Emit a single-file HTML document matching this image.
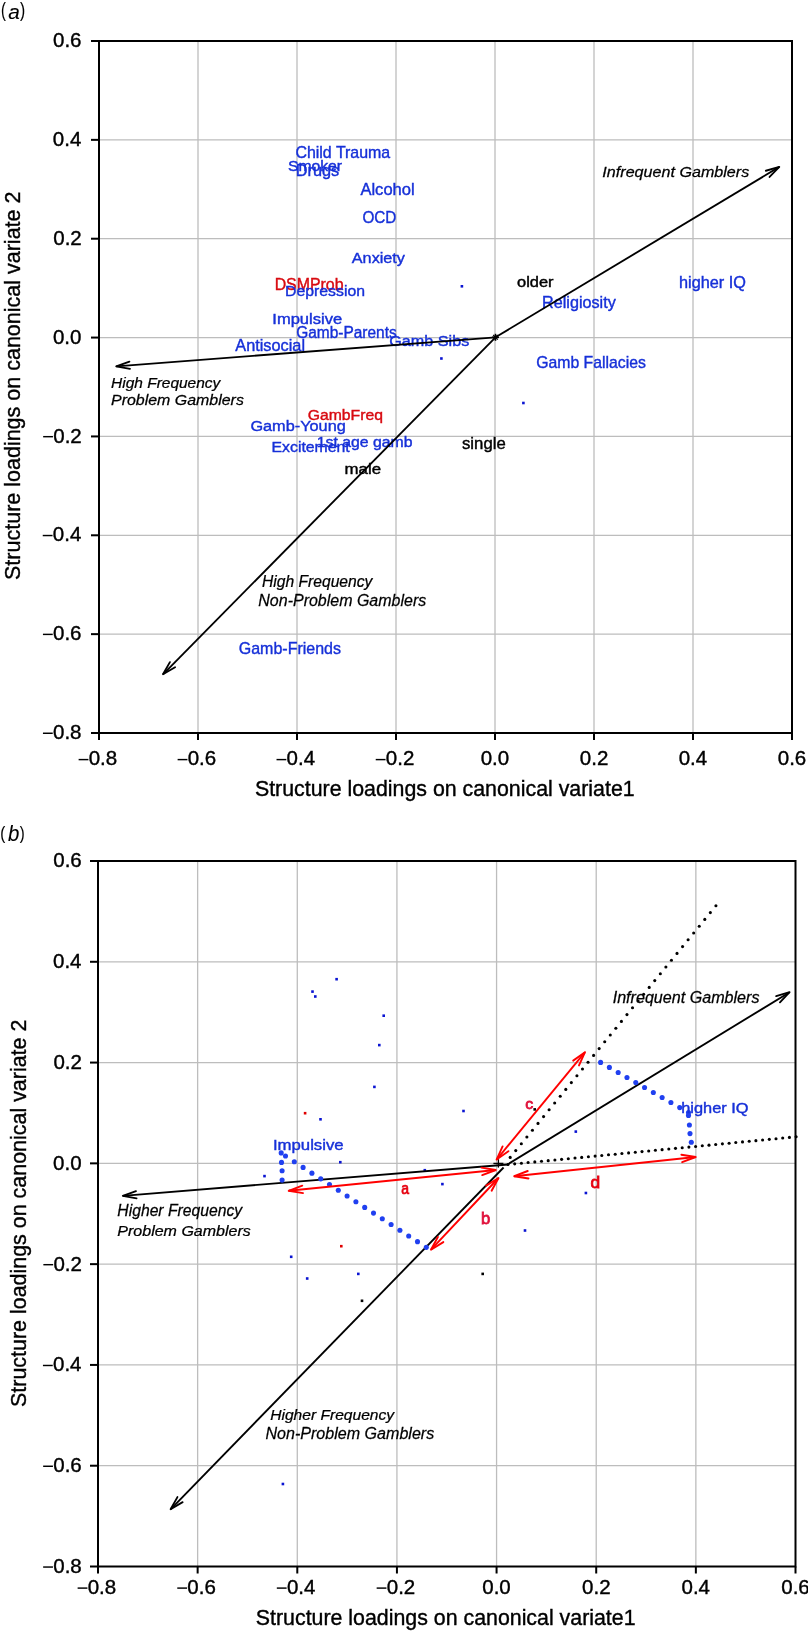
<!DOCTYPE html>
<html><head><meta charset="utf-8"><style>html,body{margin:0;padding:0;background:#fff;width:808px;height:1631px;overflow:hidden;position:relative}</style></head>
<body>
<svg width="808" height="1631" viewBox="0 0 808 1631" style="position:absolute;left:0;top:0;will-change:transform;font-family:'Liberation Sans',sans-serif">
<rect width="808" height="1631" fill="#fff"/>
<text transform="translate(1.12,17.24) scale(0.7602,1)" font-size="19.36" fill="#000" stroke="#000" stroke-width="0.1" style="">(</text>
<text transform="translate(8.28,18.90) scale(1.0211,1)" font-size="20.37" fill="#000" stroke="#000" stroke-width="0.1" style="font-style:italic;">a</text>
<text transform="translate(20.12,17.24) scale(0.7992,1)" font-size="19.36" fill="#000" stroke="#000" stroke-width="0.1" style="">)</text>
<line x1="198.00" y1="41.00" x2="198.00" y2="733.00" stroke="#bdbdbd" stroke-width="1.3"/>
<line x1="99.00" y1="139.86" x2="792.00" y2="139.86" stroke="#bdbdbd" stroke-width="1.3"/>
<line x1="297.00" y1="41.00" x2="297.00" y2="733.00" stroke="#bdbdbd" stroke-width="1.3"/>
<line x1="99.00" y1="238.71" x2="792.00" y2="238.71" stroke="#bdbdbd" stroke-width="1.3"/>
<line x1="396.00" y1="41.00" x2="396.00" y2="733.00" stroke="#bdbdbd" stroke-width="1.3"/>
<line x1="99.00" y1="337.57" x2="792.00" y2="337.57" stroke="#bdbdbd" stroke-width="1.3"/>
<line x1="495.00" y1="41.00" x2="495.00" y2="733.00" stroke="#bdbdbd" stroke-width="1.3"/>
<line x1="99.00" y1="436.43" x2="792.00" y2="436.43" stroke="#bdbdbd" stroke-width="1.3"/>
<line x1="594.00" y1="41.00" x2="594.00" y2="733.00" stroke="#bdbdbd" stroke-width="1.3"/>
<line x1="99.00" y1="535.29" x2="792.00" y2="535.29" stroke="#bdbdbd" stroke-width="1.3"/>
<line x1="693.00" y1="41.00" x2="693.00" y2="733.00" stroke="#bdbdbd" stroke-width="1.3"/>
<line x1="99.00" y1="634.14" x2="792.00" y2="634.14" stroke="#bdbdbd" stroke-width="1.3"/>
<rect x="99.00" y="41.00" width="693.00" height="692.00" fill="none" stroke="#000" stroke-width="2"/>
<line x1="91.00" y1="41.00" x2="99.00" y2="41.00" stroke="#000" stroke-width="2"/>
<text transform="translate(53.02,47.08) scale(1.0000,1)" font-size="20.50" fill="#000" stroke="#000" stroke-width="0.4" style="">0.6</text>
<line x1="99.00" y1="733.00" x2="99.00" y2="740.00" stroke="#000" stroke-width="2"/>
<line x1="78.62" y1="759.60" x2="88.42" y2="759.60" stroke="#000" stroke-width="1.45"/>
<text transform="translate(88.70,765.43) scale(1.0000,1)" font-size="20.50" fill="#000" stroke="#000" stroke-width="0.4" style="">0.8</text>
<line x1="91.00" y1="139.86" x2="99.00" y2="139.86" stroke="#000" stroke-width="2"/>
<text transform="translate(52.82,145.93) scale(1.0000,1)" font-size="20.50" fill="#000" stroke="#000" stroke-width="0.4" style="">0.4</text>
<line x1="198.00" y1="733.00" x2="198.00" y2="740.00" stroke="#000" stroke-width="2"/>
<line x1="177.62" y1="759.60" x2="187.42" y2="759.60" stroke="#000" stroke-width="1.45"/>
<text transform="translate(187.70,765.43) scale(1.0000,1)" font-size="20.50" fill="#000" stroke="#000" stroke-width="0.4" style="">0.6</text>
<line x1="91.00" y1="238.71" x2="99.00" y2="238.71" stroke="#000" stroke-width="2"/>
<text transform="translate(53.23,244.79) scale(1.0000,1)" font-size="20.50" fill="#000" stroke="#000" stroke-width="0.4" style="">0.2</text>
<line x1="297.00" y1="733.00" x2="297.00" y2="740.00" stroke="#000" stroke-width="2"/>
<line x1="276.52" y1="759.60" x2="286.32" y2="759.60" stroke="#000" stroke-width="1.45"/>
<text transform="translate(286.60,765.43) scale(1.0000,1)" font-size="20.50" fill="#000" stroke="#000" stroke-width="0.4" style="">0.4</text>
<line x1="91.00" y1="337.57" x2="99.00" y2="337.57" stroke="#000" stroke-width="2"/>
<text transform="translate(52.92,343.65) scale(1.0000,1)" font-size="20.50" fill="#000" stroke="#000" stroke-width="0.4" style="">0.0</text>
<line x1="396.00" y1="733.00" x2="396.00" y2="740.00" stroke="#000" stroke-width="2"/>
<line x1="375.73" y1="759.60" x2="385.53" y2="759.60" stroke="#000" stroke-width="1.45"/>
<text transform="translate(385.81,765.43) scale(1.0000,1)" font-size="20.50" fill="#000" stroke="#000" stroke-width="0.4" style="">0.2</text>
<line x1="91.00" y1="436.43" x2="99.00" y2="436.43" stroke="#000" stroke-width="2"/>
<text transform="translate(53.23,442.51) scale(1.0000,1)" font-size="20.50" fill="#000" stroke="#000" stroke-width="0.4" style="">0.2</text>
<line x1="43.15" y1="436.68" x2="52.95" y2="436.68" stroke="#000" stroke-width="1.45"/>
<line x1="495.00" y1="733.00" x2="495.00" y2="740.00" stroke="#000" stroke-width="2"/>
<text transform="translate(480.70,765.43) scale(1.0000,1)" font-size="20.50" fill="#000" stroke="#000" stroke-width="0.4" style="">0.0</text>
<line x1="91.00" y1="535.29" x2="99.00" y2="535.29" stroke="#000" stroke-width="2"/>
<text transform="translate(52.82,541.36) scale(1.0000,1)" font-size="20.50" fill="#000" stroke="#000" stroke-width="0.4" style="">0.4</text>
<line x1="42.74" y1="535.54" x2="52.54" y2="535.54" stroke="#000" stroke-width="1.45"/>
<line x1="594.00" y1="733.00" x2="594.00" y2="740.00" stroke="#000" stroke-width="2"/>
<text transform="translate(579.85,765.43) scale(1.0000,1)" font-size="20.50" fill="#000" stroke="#000" stroke-width="0.4" style="">0.2</text>
<line x1="91.00" y1="634.14" x2="99.00" y2="634.14" stroke="#000" stroke-width="2"/>
<text transform="translate(53.02,640.22) scale(1.0000,1)" font-size="20.50" fill="#000" stroke="#000" stroke-width="0.4" style="">0.6</text>
<line x1="42.94" y1="634.39" x2="52.74" y2="634.39" stroke="#000" stroke-width="1.45"/>
<line x1="693.00" y1="733.00" x2="693.00" y2="740.00" stroke="#000" stroke-width="2"/>
<text transform="translate(678.65,765.43) scale(1.0000,1)" font-size="20.50" fill="#000" stroke="#000" stroke-width="0.4" style="">0.4</text>
<line x1="91.00" y1="733.00" x2="99.00" y2="733.00" stroke="#000" stroke-width="2"/>
<text transform="translate(53.02,739.08) scale(1.0000,1)" font-size="20.50" fill="#000" stroke="#000" stroke-width="0.4" style="">0.8</text>
<line x1="42.94" y1="733.25" x2="52.74" y2="733.25" stroke="#000" stroke-width="1.45"/>
<line x1="792.00" y1="733.00" x2="792.00" y2="740.00" stroke="#000" stroke-width="2"/>
<text transform="translate(777.75,765.43) scale(1.0000,1)" font-size="20.50" fill="#000" stroke="#000" stroke-width="0.4" style="">0.6</text>
<text transform="translate(254.94,796.30) scale(0.9677,1)" font-size="22.07" fill="#000" stroke="#000" stroke-width="0.4" style="">Structure loadings on canonical variate1</text>
<g transform="translate(20.00,579.97) rotate(-90)"><text transform="scale(0.9407,1)" font-size="22.86" fill="#000" stroke="#000" stroke-width="0.4">Structure loadings on canonical variate 2</text></g>
<text transform="translate(295.40,158.40) scale(0.9725,1)" font-size="16.41" fill="#1630d8" stroke="#1630d8" stroke-width="0.4" style="">Child Trauma</text>
<text transform="translate(287.89,170.50) scale(1.0665,1)" font-size="14.76" fill="#1630d8" stroke="#1630d8" stroke-width="0.4" style="">Smoker</text>
<text transform="translate(295.69,175.90) scale(1.0145,1)" font-size="16.09" fill="#1630d8" stroke="#1630d8" stroke-width="0.4" style="">Drugs</text>
<text transform="translate(360.40,194.80) scale(1.0167,1)" font-size="16.28" fill="#1630d8" stroke="#1630d8" stroke-width="0.4" style="">Alcohol</text>
<text transform="translate(362.41,222.80) scale(0.9157,1)" font-size="16.71" fill="#1630d8" stroke="#1630d8" stroke-width="0.4" style="">OCD</text>
<text transform="translate(351.80,263.40) scale(1.0594,1)" font-size="15.31" fill="#1630d8" stroke="#1630d8" stroke-width="0.4" style="">Anxiety</text>
<text transform="translate(274.63,289.50) scale(1.0109,1)" font-size="15.72" fill="#d80a10" stroke="#d80a10" stroke-width="0.4" style="">DSMProb</text>
<text transform="translate(285.03,295.90) scale(1.0430,1)" font-size="15.17" fill="#1630d8" stroke="#1630d8" stroke-width="0.4" style="">Depression</text>
<text transform="translate(272.31,323.50) scale(1.1429,1)" font-size="14.48" fill="#1630d8" stroke="#1630d8" stroke-width="0.4" style="">Impulsive</text>
<text transform="translate(296.13,338.20) scale(0.9192,1)" font-size="16.83" fill="#1630d8" stroke="#1630d8" stroke-width="0.4" style="">Gamb-Parents</text>
<text transform="translate(235.30,351.30) scale(1.0187,1)" font-size="16.00" fill="#1630d8" stroke="#1630d8" stroke-width="0.4" style="">Antisocial</text>
<text transform="translate(389.19,345.80) scale(1.0482,1)" font-size="15.45" fill="#1630d8" stroke="#1630d8" stroke-width="0.4" style="">Gamb Sibs</text>
<text transform="translate(517.04,286.70) scale(1.1921,1)" font-size="13.79" fill="#000" stroke="#000" stroke-width="0.4" style="">older</text>
<text transform="translate(542.11,307.60) scale(1.0112,1)" font-size="16.00" fill="#1630d8" stroke="#1630d8" stroke-width="0.4" style="">Religiosity</text>
<text transform="translate(679.06,288.30) scale(1.0169,1)" font-size="16.00" fill="#1630d8" stroke="#1630d8" stroke-width="0.4" style="">higher IQ</text>
<text transform="translate(536.21,368.40) scale(0.9627,1)" font-size="16.41" fill="#1630d8" stroke="#1630d8" stroke-width="0.4" style="">Gamb Fallacies</text>
<text transform="translate(307.71,420.00) scale(1.0776,1)" font-size="14.62" fill="#d80a10" stroke="#d80a10" stroke-width="0.4" style="">GambFreq</text>
<text transform="translate(250.38,430.70) scale(1.0651,1)" font-size="15.31" fill="#1630d8" stroke="#1630d8" stroke-width="0.4" style="">Gamb-Young</text>
<text transform="translate(271.53,452.40) scale(1.0243,1)" font-size="15.45" fill="#1630d8" stroke="#1630d8" stroke-width="0.4" style="">Excitement</text>
<text transform="translate(316.81,447.20) scale(1.1023,1)" font-size="14.34" fill="#1630d8" stroke="#1630d8" stroke-width="0.4" style="">1st age gamb</text>
<text transform="translate(462.00,448.70) scale(1.0662,1)" font-size="15.72" fill="#000" stroke="#000" stroke-width="0.4" style="">single</text>
<text transform="translate(344.61,473.70) scale(1.1737,1)" font-size="14.34" fill="#000" stroke="#000" stroke-width="0.4" style="">male</text>
<text transform="translate(238.70,653.60) scale(0.9217,1)" font-size="17.38" fill="#1630d8" stroke="#1630d8" stroke-width="0.4" style="">Gamb-Friends</text>
<text transform="translate(602.36,177.30) scale(1.1240,1)" font-size="14.34" fill="#000" stroke="#000" stroke-width="0.25" style="font-style:italic;">Infrequent Gamblers</text>
<text transform="translate(111.04,387.50) scale(1.0306,1)" font-size="15.03" fill="#000" stroke="#000" stroke-width="0.25" style="font-style:italic;">High Frequency</text>
<text transform="translate(111.02,405.30) scale(1.0703,1)" font-size="14.90" fill="#000" stroke="#000" stroke-width="0.25" style="font-style:italic;">Problem Gamblers</text>
<text transform="translate(262.03,586.70) scale(0.9607,1)" font-size="16.28" fill="#000" stroke="#000" stroke-width="0.25" style="font-style:italic;">High Frequency</text>
<text transform="translate(258.32,606.40) scale(0.9504,1)" font-size="16.83" fill="#000" stroke="#000" stroke-width="0.25" style="font-style:italic;">Non-Problem Gamblers</text>
<line x1="495.50" y1="337.30" x2="779.30" y2="166.90" stroke="#000" stroke-width="1.85"/>
<polyline points="769.57,176.97 779.30,166.90 765.84,170.75" fill="none" stroke="#000" stroke-width="1.85" stroke-linejoin="round" stroke-linecap="round"/>
<line x1="495.50" y1="337.30" x2="116.20" y2="366.30" stroke="#000" stroke-width="1.85"/>
<polyline points="129.41,361.66 116.20,366.30 129.96,368.88" fill="none" stroke="#000" stroke-width="1.85" stroke-linejoin="round" stroke-linecap="round"/>
<line x1="495.50" y1="337.30" x2="163.00" y2="674.30" stroke="#000" stroke-width="1.85"/>
<polyline points="169.92,662.13 163.00,674.30 175.08,667.22" fill="none" stroke="#000" stroke-width="1.85" stroke-linejoin="round" stroke-linecap="round"/>
<line x1="492.00" y1="337.30" x2="499.00" y2="337.30" stroke="#000" stroke-width="1.6"/>
<line x1="495.50" y1="333.80" x2="495.50" y2="340.80" stroke="#000" stroke-width="1.6"/>
<line x1="493.20" y1="335.00" x2="497.80" y2="339.60" stroke="#000" stroke-width="1.2"/>
<line x1="493.20" y1="339.60" x2="497.80" y2="335.00" stroke="#000" stroke-width="1.2"/>
<rect x="460.60" y="285.00" width="2.6" height="2.6" fill="#0a14d2"/>
<rect x="440.10" y="357.20" width="2.6" height="2.6" fill="#0a14d2"/>
<rect x="522.10" y="401.70" width="2.6" height="2.6" fill="#0a14d2"/>
<text transform="translate(0.29,838.80) scale(0.7928,1)" font-size="19.04" fill="#000" stroke="#000" stroke-width="0.1" style="">(</text>
<text transform="translate(8.09,840.60) scale(0.9477,1)" font-size="21.52" fill="#000" stroke="#000" stroke-width="0.1" style="font-style:italic;">b</text>
<text transform="translate(19.83,838.80) scale(0.7730,1)" font-size="19.04" fill="#000" stroke="#000" stroke-width="0.1" style="">)</text>
<line x1="197.64" y1="861.00" x2="197.64" y2="1566.50" stroke="#bdbdbd" stroke-width="1.3"/>
<line x1="98.00" y1="961.79" x2="795.50" y2="961.79" stroke="#bdbdbd" stroke-width="1.3"/>
<line x1="297.29" y1="861.00" x2="297.29" y2="1566.50" stroke="#bdbdbd" stroke-width="1.3"/>
<line x1="98.00" y1="1062.57" x2="795.50" y2="1062.57" stroke="#bdbdbd" stroke-width="1.3"/>
<line x1="396.93" y1="861.00" x2="396.93" y2="1566.50" stroke="#bdbdbd" stroke-width="1.3"/>
<line x1="98.00" y1="1163.36" x2="795.50" y2="1163.36" stroke="#bdbdbd" stroke-width="1.3"/>
<line x1="496.57" y1="861.00" x2="496.57" y2="1566.50" stroke="#bdbdbd" stroke-width="1.3"/>
<line x1="98.00" y1="1264.14" x2="795.50" y2="1264.14" stroke="#bdbdbd" stroke-width="1.3"/>
<line x1="596.21" y1="861.00" x2="596.21" y2="1566.50" stroke="#bdbdbd" stroke-width="1.3"/>
<line x1="98.00" y1="1364.93" x2="795.50" y2="1364.93" stroke="#bdbdbd" stroke-width="1.3"/>
<line x1="695.86" y1="861.00" x2="695.86" y2="1566.50" stroke="#bdbdbd" stroke-width="1.3"/>
<line x1="98.00" y1="1465.71" x2="795.50" y2="1465.71" stroke="#bdbdbd" stroke-width="1.3"/>
<rect x="98.00" y="861.00" width="697.50" height="705.50" fill="none" stroke="#000" stroke-width="2"/>
<line x1="90.00" y1="861.00" x2="98.00" y2="861.00" stroke="#000" stroke-width="2"/>
<text transform="translate(53.23,867.38) scale(1.0000,1)" font-size="20.50" fill="#000" stroke="#000" stroke-width="0.4" style="">0.6</text>
<line x1="98.00" y1="1566.50" x2="98.00" y2="1573.50" stroke="#000" stroke-width="2"/>
<line x1="77.62" y1="1588.10" x2="87.42" y2="1588.10" stroke="#000" stroke-width="1.45"/>
<text transform="translate(87.70,1593.93) scale(1.0000,1)" font-size="20.50" fill="#000" stroke="#000" stroke-width="0.4" style="">0.8</text>
<line x1="90.00" y1="961.79" x2="98.00" y2="961.79" stroke="#000" stroke-width="2"/>
<text transform="translate(53.02,968.16) scale(1.0000,1)" font-size="20.50" fill="#000" stroke="#000" stroke-width="0.4" style="">0.4</text>
<line x1="197.64" y1="1566.50" x2="197.64" y2="1573.50" stroke="#000" stroke-width="2"/>
<line x1="177.27" y1="1588.10" x2="187.07" y2="1588.10" stroke="#000" stroke-width="1.45"/>
<text transform="translate(187.35,1593.93) scale(1.0000,1)" font-size="20.50" fill="#000" stroke="#000" stroke-width="0.4" style="">0.6</text>
<line x1="90.00" y1="1062.57" x2="98.00" y2="1062.57" stroke="#000" stroke-width="2"/>
<text transform="translate(53.43,1068.95) scale(1.0000,1)" font-size="20.50" fill="#000" stroke="#000" stroke-width="0.4" style="">0.2</text>
<line x1="297.29" y1="1566.50" x2="297.29" y2="1573.50" stroke="#000" stroke-width="2"/>
<line x1="276.81" y1="1588.10" x2="286.61" y2="1588.10" stroke="#000" stroke-width="1.45"/>
<text transform="translate(286.89,1593.93) scale(1.0000,1)" font-size="20.50" fill="#000" stroke="#000" stroke-width="0.4" style="">0.4</text>
<line x1="90.00" y1="1163.36" x2="98.00" y2="1163.36" stroke="#000" stroke-width="2"/>
<text transform="translate(53.12,1169.73) scale(1.0000,1)" font-size="20.50" fill="#000" stroke="#000" stroke-width="0.4" style="">0.0</text>
<line x1="396.93" y1="1566.50" x2="396.93" y2="1573.50" stroke="#000" stroke-width="2"/>
<line x1="376.65" y1="1588.10" x2="386.45" y2="1588.10" stroke="#000" stroke-width="1.45"/>
<text transform="translate(386.73,1593.93) scale(1.0000,1)" font-size="20.50" fill="#000" stroke="#000" stroke-width="0.4" style="">0.2</text>
<line x1="90.00" y1="1264.14" x2="98.00" y2="1264.14" stroke="#000" stroke-width="2"/>
<text transform="translate(53.43,1270.52) scale(1.0000,1)" font-size="20.50" fill="#000" stroke="#000" stroke-width="0.4" style="">0.2</text>
<line x1="43.35" y1="1264.69" x2="53.15" y2="1264.69" stroke="#000" stroke-width="1.45"/>
<line x1="496.57" y1="1566.50" x2="496.57" y2="1573.50" stroke="#000" stroke-width="2"/>
<text transform="translate(482.27,1593.93) scale(1.0000,1)" font-size="20.50" fill="#000" stroke="#000" stroke-width="0.4" style="">0.0</text>
<line x1="90.00" y1="1364.93" x2="98.00" y2="1364.93" stroke="#000" stroke-width="2"/>
<text transform="translate(53.02,1371.31) scale(1.0000,1)" font-size="20.50" fill="#000" stroke="#000" stroke-width="0.4" style="">0.4</text>
<line x1="42.94" y1="1365.48" x2="52.74" y2="1365.48" stroke="#000" stroke-width="1.45"/>
<line x1="596.21" y1="1566.50" x2="596.21" y2="1573.50" stroke="#000" stroke-width="2"/>
<text transform="translate(582.07,1593.93) scale(1.0000,1)" font-size="20.50" fill="#000" stroke="#000" stroke-width="0.4" style="">0.2</text>
<line x1="90.00" y1="1465.71" x2="98.00" y2="1465.71" stroke="#000" stroke-width="2"/>
<text transform="translate(53.23,1472.09) scale(1.0000,1)" font-size="20.50" fill="#000" stroke="#000" stroke-width="0.4" style="">0.6</text>
<line x1="43.14" y1="1466.26" x2="52.95" y2="1466.26" stroke="#000" stroke-width="1.45"/>
<line x1="695.86" y1="1566.50" x2="695.86" y2="1573.50" stroke="#000" stroke-width="2"/>
<text transform="translate(681.51,1593.93) scale(1.0000,1)" font-size="20.50" fill="#000" stroke="#000" stroke-width="0.4" style="">0.4</text>
<line x1="90.00" y1="1566.50" x2="98.00" y2="1566.50" stroke="#000" stroke-width="2"/>
<text transform="translate(53.23,1572.88) scale(1.0000,1)" font-size="20.50" fill="#000" stroke="#000" stroke-width="0.4" style="">0.8</text>
<line x1="43.14" y1="1567.05" x2="52.95" y2="1567.05" stroke="#000" stroke-width="1.45"/>
<line x1="795.50" y1="1566.50" x2="795.50" y2="1573.50" stroke="#000" stroke-width="2"/>
<text transform="translate(781.25,1593.93) scale(1.0000,1)" font-size="20.50" fill="#000" stroke="#000" stroke-width="0.4" style="">0.6</text>
<text transform="translate(255.84,1625.30) scale(0.9677,1)" font-size="22.07" fill="#000" stroke="#000" stroke-width="0.4" style="">Structure loadings on canonical variate1</text>
<g transform="translate(26.00,1406.97) rotate(-90)"><text transform="scale(0.9383,1)" font-size="22.86" fill="#000" stroke="#000" stroke-width="0.4">Structure loadings on canonical variate 2</text></g>
<rect x="335.30" y="977.90" width="2.6" height="2.6" fill="#0a14d2"/>
<rect x="311.20" y="990.30" width="2.6" height="2.6" fill="#0a14d2"/>
<rect x="314.00" y="995.20" width="2.6" height="2.6" fill="#0a14d2"/>
<rect x="382.40" y="1014.40" width="2.6" height="2.6" fill="#0a14d2"/>
<rect x="378.00" y="1043.80" width="2.6" height="2.6" fill="#0a14d2"/>
<rect x="373.10" y="1085.60" width="2.6" height="2.6" fill="#0a14d2"/>
<rect x="319.20" y="1118.00" width="2.6" height="2.6" fill="#0a14d2"/>
<rect x="462.20" y="1109.70" width="2.6" height="2.6" fill="#0a14d2"/>
<rect x="263.20" y="1174.80" width="2.6" height="2.6" fill="#0a14d2"/>
<rect x="339.00" y="1160.90" width="2.6" height="2.6" fill="#0a14d2"/>
<rect x="423.50" y="1168.90" width="2.6" height="2.6" fill="#0a14d2"/>
<rect x="441.10" y="1182.80" width="2.6" height="2.6" fill="#0a14d2"/>
<rect x="289.90" y="1255.50" width="2.6" height="2.6" fill="#0a14d2"/>
<rect x="305.90" y="1277.20" width="2.6" height="2.6" fill="#0a14d2"/>
<rect x="357.00" y="1272.60" width="2.6" height="2.6" fill="#0a14d2"/>
<rect x="281.60" y="1482.70" width="2.6" height="2.6" fill="#0a14d2"/>
<rect x="574.50" y="1130.30" width="2.6" height="2.6" fill="#0a14d2"/>
<rect x="584.60" y="1191.70" width="2.6" height="2.6" fill="#0a14d2"/>
<rect x="523.70" y="1229.20" width="2.6" height="2.6" fill="#0a14d2"/>
<rect x="303.80" y="1111.90" width="2.6" height="2.6" fill="#e00000"/>
<rect x="340.00" y="1244.90" width="2.6" height="2.6" fill="#e00000"/>
<rect x="533.40" y="1108.10" width="2.6" height="2.6" fill="#000"/>
<rect x="481.40" y="1272.60" width="2.6" height="2.6" fill="#000"/>
<rect x="360.70" y="1299.50" width="2.6" height="2.6" fill="#000"/>
<circle cx="510.20" cy="1157.40" r="1.55" fill="#000"/>
<circle cx="515.76" cy="1150.60" r="1.55" fill="#000"/>
<circle cx="521.32" cy="1143.80" r="1.55" fill="#000"/>
<circle cx="526.88" cy="1137.00" r="1.55" fill="#000"/>
<circle cx="532.44" cy="1130.20" r="1.55" fill="#000"/>
<circle cx="538.00" cy="1123.40" r="1.55" fill="#000"/>
<circle cx="543.56" cy="1116.60" r="1.55" fill="#000"/>
<circle cx="549.12" cy="1109.80" r="1.55" fill="#000"/>
<circle cx="554.68" cy="1103.00" r="1.55" fill="#000"/>
<circle cx="560.24" cy="1096.20" r="1.55" fill="#000"/>
<circle cx="565.80" cy="1089.40" r="1.55" fill="#000"/>
<circle cx="571.36" cy="1082.60" r="1.55" fill="#000"/>
<circle cx="576.92" cy="1075.80" r="1.55" fill="#000"/>
<circle cx="582.48" cy="1069.00" r="1.55" fill="#000"/>
<circle cx="588.04" cy="1062.20" r="1.55" fill="#000"/>
<circle cx="593.60" cy="1055.40" r="1.55" fill="#000"/>
<circle cx="599.16" cy="1048.60" r="1.55" fill="#000"/>
<circle cx="604.72" cy="1041.80" r="1.55" fill="#000"/>
<circle cx="610.28" cy="1035.00" r="1.55" fill="#000"/>
<circle cx="615.84" cy="1028.20" r="1.55" fill="#000"/>
<circle cx="621.40" cy="1021.40" r="1.55" fill="#000"/>
<circle cx="626.96" cy="1014.60" r="1.55" fill="#000"/>
<circle cx="632.52" cy="1007.80" r="1.55" fill="#000"/>
<circle cx="638.08" cy="1001.00" r="1.55" fill="#000"/>
<circle cx="643.64" cy="994.20" r="1.55" fill="#000"/>
<circle cx="649.20" cy="987.40" r="1.55" fill="#000"/>
<circle cx="654.76" cy="980.60" r="1.55" fill="#000"/>
<circle cx="660.32" cy="973.80" r="1.55" fill="#000"/>
<circle cx="665.88" cy="967.00" r="1.55" fill="#000"/>
<circle cx="671.44" cy="960.20" r="1.55" fill="#000"/>
<circle cx="677.00" cy="953.40" r="1.55" fill="#000"/>
<circle cx="682.56" cy="946.60" r="1.55" fill="#000"/>
<circle cx="688.12" cy="939.80" r="1.55" fill="#000"/>
<circle cx="693.68" cy="933.00" r="1.55" fill="#000"/>
<circle cx="699.24" cy="926.20" r="1.55" fill="#000"/>
<circle cx="704.80" cy="919.40" r="1.55" fill="#000"/>
<circle cx="710.36" cy="912.60" r="1.55" fill="#000"/>
<circle cx="715.92" cy="905.80" r="1.55" fill="#000"/>
<circle cx="508.00" cy="1164.50" r="1.55" fill="#000"/>
<circle cx="514.70" cy="1163.85" r="1.55" fill="#000"/>
<circle cx="521.40" cy="1163.21" r="1.55" fill="#000"/>
<circle cx="528.10" cy="1162.56" r="1.55" fill="#000"/>
<circle cx="534.80" cy="1161.92" r="1.55" fill="#000"/>
<circle cx="541.50" cy="1161.27" r="1.55" fill="#000"/>
<circle cx="548.20" cy="1160.63" r="1.55" fill="#000"/>
<circle cx="554.90" cy="1159.98" r="1.55" fill="#000"/>
<circle cx="561.60" cy="1159.34" r="1.55" fill="#000"/>
<circle cx="568.30" cy="1158.69" r="1.55" fill="#000"/>
<circle cx="575.00" cy="1158.05" r="1.55" fill="#000"/>
<circle cx="581.70" cy="1157.40" r="1.55" fill="#000"/>
<circle cx="588.40" cy="1156.76" r="1.55" fill="#000"/>
<circle cx="595.10" cy="1156.11" r="1.55" fill="#000"/>
<circle cx="601.80" cy="1155.47" r="1.55" fill="#000"/>
<circle cx="608.50" cy="1154.82" r="1.55" fill="#000"/>
<circle cx="615.20" cy="1154.18" r="1.55" fill="#000"/>
<circle cx="621.90" cy="1153.53" r="1.55" fill="#000"/>
<circle cx="628.60" cy="1152.89" r="1.55" fill="#000"/>
<circle cx="635.30" cy="1152.24" r="1.55" fill="#000"/>
<circle cx="642.00" cy="1151.60" r="1.55" fill="#000"/>
<circle cx="648.70" cy="1150.95" r="1.55" fill="#000"/>
<circle cx="655.40" cy="1150.31" r="1.55" fill="#000"/>
<circle cx="662.10" cy="1149.66" r="1.55" fill="#000"/>
<circle cx="668.80" cy="1149.01" r="1.55" fill="#000"/>
<circle cx="675.50" cy="1148.37" r="1.55" fill="#000"/>
<circle cx="682.20" cy="1147.72" r="1.55" fill="#000"/>
<circle cx="688.90" cy="1147.08" r="1.55" fill="#000"/>
<circle cx="695.60" cy="1146.43" r="1.55" fill="#000"/>
<circle cx="702.30" cy="1145.79" r="1.55" fill="#000"/>
<circle cx="709.00" cy="1145.14" r="1.55" fill="#000"/>
<circle cx="715.70" cy="1144.50" r="1.55" fill="#000"/>
<circle cx="722.40" cy="1143.85" r="1.55" fill="#000"/>
<circle cx="729.10" cy="1143.21" r="1.55" fill="#000"/>
<circle cx="735.80" cy="1142.56" r="1.55" fill="#000"/>
<circle cx="742.50" cy="1141.92" r="1.55" fill="#000"/>
<circle cx="749.20" cy="1141.27" r="1.55" fill="#000"/>
<circle cx="755.90" cy="1140.63" r="1.55" fill="#000"/>
<circle cx="762.60" cy="1139.98" r="1.55" fill="#000"/>
<circle cx="769.30" cy="1139.34" r="1.55" fill="#000"/>
<circle cx="776.00" cy="1138.69" r="1.55" fill="#000"/>
<circle cx="782.70" cy="1138.05" r="1.55" fill="#000"/>
<circle cx="789.40" cy="1137.40" r="1.55" fill="#000"/>
<circle cx="796.10" cy="1136.76" r="1.55" fill="#000"/>
<line x1="507.50" y1="1164.50" x2="789.60" y2="992.20" stroke="#000" stroke-width="1.85"/>
<polyline points="779.95,1002.34 789.60,992.20 776.17,996.16" fill="none" stroke="#000" stroke-width="1.85" stroke-linejoin="round" stroke-linecap="round"/>
<line x1="508.00" y1="1164.50" x2="122.80" y2="1195.80" stroke="#000" stroke-width="1.85"/>
<polyline points="135.99,1191.09 122.80,1195.80 136.57,1198.32" fill="none" stroke="#000" stroke-width="1.85" stroke-linejoin="round" stroke-linecap="round"/>
<line x1="503.60" y1="1167.50" x2="170.60" y2="1509.30" stroke="#000" stroke-width="1.85"/>
<polyline points="177.44,1497.09 170.60,1509.30 182.63,1502.14" fill="none" stroke="#000" stroke-width="1.85" stroke-linejoin="round" stroke-linecap="round"/>
<line x1="493.40" y1="1163.40" x2="503.40" y2="1163.40" stroke="#000" stroke-width="1.3"/>
<line x1="498.40" y1="1159.20" x2="498.40" y2="1167.60" stroke="#000" stroke-width="1.3"/>
<circle cx="285.50" cy="1156.00" r="2.55" fill="#2040f0"/>
<circle cx="294.30" cy="1161.71" r="2.55" fill="#2040f0"/>
<circle cx="303.10" cy="1167.42" r="2.55" fill="#2040f0"/>
<circle cx="311.90" cy="1173.13" r="2.55" fill="#2040f0"/>
<circle cx="320.70" cy="1178.84" r="2.55" fill="#2040f0"/>
<circle cx="329.50" cy="1184.55" r="2.55" fill="#2040f0"/>
<circle cx="338.30" cy="1190.26" r="2.55" fill="#2040f0"/>
<circle cx="347.10" cy="1195.97" r="2.55" fill="#2040f0"/>
<circle cx="355.90" cy="1201.68" r="2.55" fill="#2040f0"/>
<circle cx="364.70" cy="1207.39" r="2.55" fill="#2040f0"/>
<circle cx="373.50" cy="1213.10" r="2.55" fill="#2040f0"/>
<circle cx="382.30" cy="1218.81" r="2.55" fill="#2040f0"/>
<circle cx="391.10" cy="1224.52" r="2.55" fill="#2040f0"/>
<circle cx="399.90" cy="1230.23" r="2.55" fill="#2040f0"/>
<circle cx="408.70" cy="1235.94" r="2.55" fill="#2040f0"/>
<circle cx="417.50" cy="1241.65" r="2.55" fill="#2040f0"/>
<circle cx="426.30" cy="1247.36" r="2.55" fill="#2040f0"/>
<circle cx="281.20" cy="1152.90" r="2.55" fill="#2040f0"/>
<circle cx="281.50" cy="1162.40" r="2.55" fill="#2040f0"/>
<circle cx="282.10" cy="1170.80" r="2.55" fill="#2040f0"/>
<circle cx="282.10" cy="1180.10" r="2.55" fill="#2040f0"/>
<circle cx="600.60" cy="1062.40" r="2.55" fill="#2040f0"/>
<circle cx="609.39" cy="1067.42" r="2.55" fill="#2040f0"/>
<circle cx="618.18" cy="1072.44" r="2.55" fill="#2040f0"/>
<circle cx="626.97" cy="1077.46" r="2.55" fill="#2040f0"/>
<circle cx="635.76" cy="1082.48" r="2.55" fill="#2040f0"/>
<circle cx="644.55" cy="1087.50" r="2.55" fill="#2040f0"/>
<circle cx="653.34" cy="1092.52" r="2.55" fill="#2040f0"/>
<circle cx="662.13" cy="1097.54" r="2.55" fill="#2040f0"/>
<circle cx="670.92" cy="1102.56" r="2.55" fill="#2040f0"/>
<circle cx="679.71" cy="1107.58" r="2.55" fill="#2040f0"/>
<circle cx="688.50" cy="1112.60" r="2.55" fill="#2040f0"/>
<circle cx="688.50" cy="1115.40" r="2.55" fill="#2040f0"/>
<circle cx="689.40" cy="1125.00" r="2.55" fill="#2040f0"/>
<circle cx="690.00" cy="1133.60" r="2.55" fill="#2040f0"/>
<circle cx="691.30" cy="1142.30" r="2.55" fill="#2040f0"/>
<line x1="288.70" y1="1190.80" x2="495.80" y2="1170.00" stroke="#ff0000" stroke-width="1.9"/>
<polyline points="482.24,1175.13 495.80,1170.00 481.49,1167.67" fill="none" stroke="#ff0000" stroke-width="1.9" stroke-linejoin="round" stroke-linecap="round"/>
<polyline points="302.26,1185.67 288.70,1190.80 303.01,1193.13" fill="none" stroke="#ff0000" stroke-width="1.9" stroke-linejoin="round" stroke-linecap="round"/>
<line x1="431.00" y1="1249.70" x2="498.50" y2="1178.00" stroke="#ff0000" stroke-width="1.9"/>
<polyline points="491.63,1190.77 498.50,1178.00 486.17,1185.63" fill="none" stroke="#ff0000" stroke-width="1.9" stroke-linejoin="round" stroke-linecap="round"/>
<polyline points="437.87,1236.93 431.00,1249.70 443.33,1242.07" fill="none" stroke="#ff0000" stroke-width="1.9" stroke-linejoin="round" stroke-linecap="round"/>
<line x1="496.60" y1="1159.60" x2="585.00" y2="1052.20" stroke="#ff0000" stroke-width="1.9"/>
<polyline points="579.00,1065.40 585.00,1052.20 573.20,1060.63" fill="none" stroke="#ff0000" stroke-width="1.9" stroke-linejoin="round" stroke-linecap="round"/>
<polyline points="502.60,1146.40 496.60,1159.60 508.40,1151.17" fill="none" stroke="#ff0000" stroke-width="1.9" stroke-linejoin="round" stroke-linecap="round"/>
<line x1="514.20" y1="1176.20" x2="695.70" y2="1157.00" stroke="#ff0000" stroke-width="1.9"/>
<polyline points="682.17,1162.21 695.70,1157.00 681.38,1154.74" fill="none" stroke="#ff0000" stroke-width="1.9" stroke-linejoin="round" stroke-linecap="round"/>
<polyline points="527.73,1170.99 514.20,1176.20 528.52,1178.46" fill="none" stroke="#ff0000" stroke-width="1.9" stroke-linejoin="round" stroke-linecap="round"/>
<text transform="translate(401.24,1194.40) scale(0.8579,1)" font-size="16.30" fill="#e6000f" stroke="#e6000f" stroke-width="0.75" style="">a</text>
<text transform="translate(480.92,1223.80) scale(0.9904,1)" font-size="16.83" fill="#e0103a" stroke="#e0103a" stroke-width="0.75" style="">b</text>
<text transform="translate(525.37,1108.70) scale(1.0197,1)" font-size="15.56" fill="#e0143c" stroke="#e0143c" stroke-width="0.75" style="">c</text>
<text transform="translate(590.41,1187.80) scale(1.0928,1)" font-size="15.86" fill="#e6000f" stroke="#e6000f" stroke-width="0.75" style="">d</text>
<text transform="translate(272.89,1149.60) scale(1.1365,1)" font-size="14.76" fill="#1630d8" stroke="#1630d8" stroke-width="0.4" style="">Impulsive</text>
<text transform="translate(681.25,1112.90) scale(1.1430,1)" font-size="14.34" fill="#1630d8" stroke="#1630d8" stroke-width="0.4" style="">higher IQ</text>
<text transform="translate(612.66,1002.90) scale(1.0338,1)" font-size="15.59" fill="#000" stroke="#000" stroke-width="0.25" style="font-style:italic;">Infrequent Gamblers</text>
<text transform="translate(117.33,1216.30) scale(1.0087,1)" font-size="15.59" fill="#000" stroke="#000" stroke-width="0.25" style="font-style:italic;">Higher Frequency</text>
<text transform="translate(117.32,1236.10) scale(1.0955,1)" font-size="14.62" fill="#000" stroke="#000" stroke-width="0.25" style="font-style:italic;">Problem Gamblers</text>
<text transform="translate(270.23,1420.40) scale(1.0195,1)" font-size="15.31" fill="#000" stroke="#000" stroke-width="0.25" style="font-style:italic;">Higher Frequency</text>
<text transform="translate(265.42,1439.40) scale(0.9483,1)" font-size="16.97" fill="#000" stroke="#000" stroke-width="0.25" style="font-style:italic;">Non-Problem Gamblers</text>
</svg>
</body></html>
